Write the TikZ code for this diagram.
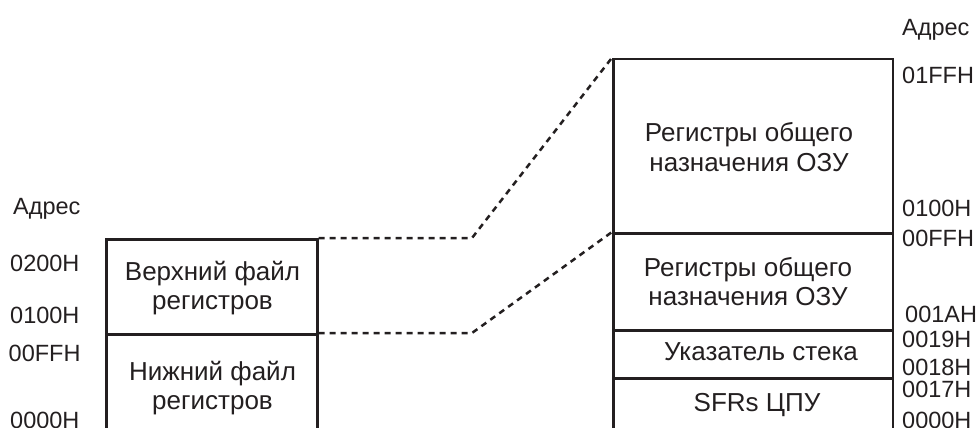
\documentclass[tikz,border=0pt]{standalone}
\usepackage{fontspec}
\setmainfont{Liberation Sans}
\definecolor{ink}{HTML}{231F20}
\begin{document}
\begin{tikzpicture}[x=1pt,y=-1pt,
  membox/.style={draw=ink, line width=2.6pt, inner sep=0pt, anchor=north west},
  boxtext/.style={text=ink, inner sep=0pt, anchor=base, align=center,
    font=\fontsize{26}{29}\selectfont},
  addr/.style={text=ink, inner sep=0pt, anchor=base west,
    font=\fontsize{23.5}{26}\selectfont},
  link/.style={draw=ink, line width=2.5pt, dash pattern=on 6pt off 5pt}]
\useasboundingbox (0,0) rectangle (978,428);

% left memory map
\node[membox, minimum width=211pt, minimum height=95pt] (up) at (105,238) {};
\node[membox, minimum width=211pt, minimum height=95pt] (lo) at (105,333) {};
% multi-line nodes sit on the baseline of their last line
\node[boxtext] (tup) at (212.5,309) {Верхний файл\\регистров};
\node[boxtext] (tlo) at (212.5,409) {Нижний файл\\регистров};

% right memory map
\node[membox, minimum width=279.5pt, minimum height=174.3pt] (r1) at (612,57.7) {};
\node[membox, minimum width=279.5pt, minimum height=97pt] (r2) at (612,232) {};
\node[membox, minimum width=279.5pt, minimum height=48pt] (r3) at (612,329) {};
\node[membox, minimum width=279.5pt, minimum height=60pt] (r4) at (612,377) {};
\node[boxtext] (t1) at (749,171) {Регистры общего\\назначения ОЗУ};
\node[boxtext] (t2) at (748,305) {Регистры общего\\назначения ОЗУ};
\node[boxtext] (t3) at (761,360) {Указатель стека};
\node[boxtext] (t4) at (757,411.5) {SFRs ЦПУ};

% address labels, left
\node[addr] (la) at (13,214) {Адрес};
\node[addr] (l1) at (10,271) {0200H};
\node[addr] (l2) at (10,323) {0100H};
\node[addr] (l3) at (8.5,361) {00FFH};
\node[addr] (l4) at (10,428) {0000H};

% address labels, right
\node[addr] (ra) at (902,36) {Адрес};
\node[addr] (a1) at (902,83.3) {01FFH};
\node[addr] (a2) at (902,216.7) {0100H};
\node[addr] (a3) at (902,246.7) {00FFH};
\node[addr] (a4) at (905,322.7) {001AH};
\node[addr] (a5) at (902,347.7) {0019H};
\node[addr] (a6) at (902,375) {0018H};
\node[addr] (a7) at (902,397.3) {0017H};
\node[addr] (a8) at (902,428.5) {0000H};

% dotted correspondence lines
\coordinate (k1) at (472,238);
\coordinate (k2) at (472,333);
\draw[link] (up.north east) -- (k1) -- (r1.north west);
\draw[link] (lo.north east) -- (k2) -- (r2.north west);
\draw[link] (lo.south east) -- (r4.south west);
\end{tikzpicture}
\end{document}
